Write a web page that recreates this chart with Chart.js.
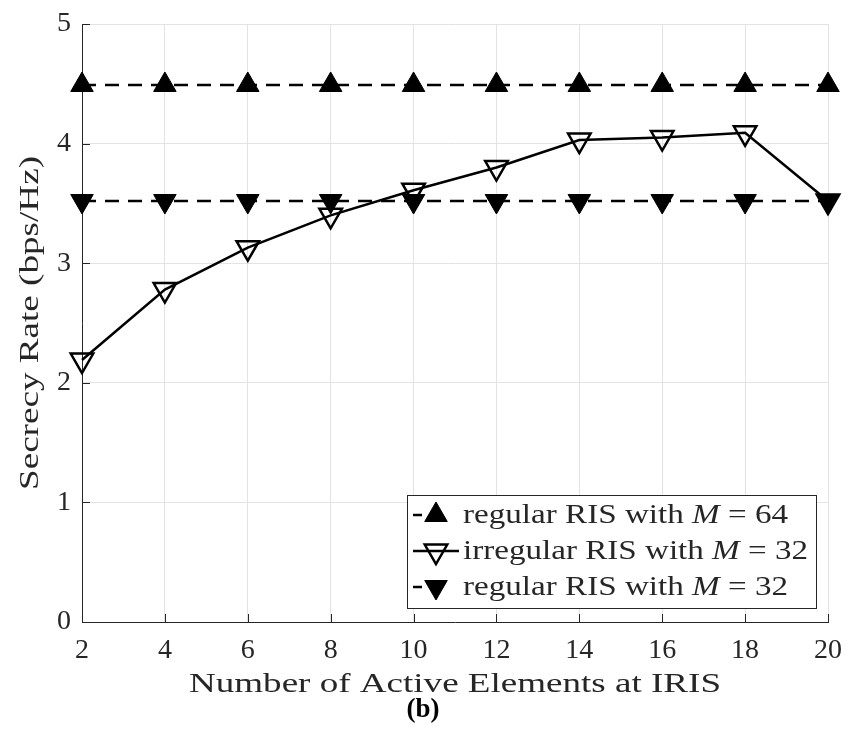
<!DOCTYPE html>
<html>
<head>
<meta charset="utf-8">
<script src="https://cdn.jsdelivr.net/npm/chart.js@4.4.1/dist/chart.umd.min.js"></script>
<style>
  html, body { margin: 0; padding: 0; background: #fff; }
  #wrap { width: 847px; height: 740px; }
</style>
</head>
<body>
<div id="wrap"><canvas id="chart" width="847" height="740"></canvas></div>
<script>
// data
const elements = [2, 4, 6, 8, 10, 12, 14, 16, 18, 20];
const regular64 = [4.49, 4.49, 4.49, 4.49, 4.49, 4.49, 4.49, 4.49, 4.49, 4.49];
const irregular32 = [2.19, 2.78, 3.13, 3.40, 3.61, 3.80, 4.03, 4.05, 4.09, 3.52];
const regular32 = [3.52, 3.52, 3.52, 3.52, 3.52, 3.52, 3.52, 3.52, 3.52, 3.52];
const seriesNames = ["regular RIS with ", "irregular RIS with ", "regular RIS with "];
const seriesM = ["64", "32", "32"];
const yTicks = [0, 1, 2, 3, 4, 5];
const xTitle = "Number of Active Elements at IRIS";
const yTitle = "Secrecy Rate (bps/Hz)";

const SERIF = '"Liberation Serif", "DejaVu Serif", serif';
const TXT = "#262626";
const GRID = "#e3e3e3";
const MARK = 13;

function pts(ys) {
  return elements.map((x, i) => ({ x: x, y: ys[i] }));
}

// the reference font (Computer Modern) is wider than Liberation Serif,
// so stretch the text horizontally to the same length
function stretchText(ctx, text, cx, y, target) {
  const w = ctx.measureText(text).width;
  ctx.save();
  ctx.translate(cx - target / 2, y);
  ctx.scale(target / w, 1);
  ctx.textAlign = "left";
  ctx.fillText(text, 0, 0);
  ctx.restore();
}

function legendText(ctx, i, x, y, target, size) {
  const parts = [
    [seriesNames[i], size + "px " + SERIF],
    ["M", "italic " + size + "px " + SERIF],
    [" = " + seriesM[i], size + "px " + SERIF]
  ];
  let total = 0;
  parts.forEach((p) => { ctx.font = p[1]; total += ctx.measureText(p[0]).width; });
  ctx.save();
  ctx.translate(x, y);
  ctx.scale(target / total, 1);
  ctx.textAlign = "left";
  let tx = 0;
  parts.forEach((p) => {
    ctx.font = p[1];
    ctx.fillText(p[0], tx, 0);
    tx += ctx.measureText(p[0]).width;
  });
  ctx.restore();
}

const matlabLook = {
  id: "matlabLook",
  afterDatasetsDraw(chart) {
    const ctx = chart.ctx;
    const a = chart.chartArea;
    const xs = chart.scales.x, ys = chart.scales.y;
    ctx.save();
    // inward ticks on left and bottom
    ctx.strokeStyle = TXT;
    ctx.lineWidth = 1;
    const tl = 8;
    ctx.beginPath();
    elements.forEach((v) => {
      const px = Math.round(xs.getPixelForValue(v)) + 0.5;
      ctx.moveTo(px, a.bottom); ctx.lineTo(px, a.bottom - tl);
    });
    yTicks.forEach((v) => {
      const py = Math.round(ys.getPixelForValue(v)) + 0.5;
      ctx.moveTo(a.left, py); ctx.lineTo(a.left + tl, py);
    });
    ctx.stroke();

    // axis titles
    ctx.fillStyle = TXT;
    ctx.textBaseline = "alphabetic";
    ctx.font = "28px " + SERIF;
    stretchText(ctx, xTitle, (a.left + a.right) / 2, 692, 532);
    ctx.save();
    ctx.translate(38, (a.top + a.bottom) / 2);
    ctx.rotate(-Math.PI / 2);
    stretchText(ctx, yTitle, 0, 0, 334);
    ctx.restore();

    // legend
    const bx = 407, by = 495, bw = 409, bh = 113;
    ctx.fillStyle = "#fff";
    ctx.fillRect(bx, by, bw, bh);
    ctx.strokeStyle = TXT;
    ctx.strokeRect(bx + 0.5, by + 0.5, bw, bh);
    const rowY = [515, 551, 587];
    const rowW = [325, 345, 325];
    chart.data.datasets.forEach((ds, i) => {
      const y = rowY[i];
      ctx.strokeStyle = "#000";
      ctx.lineWidth = 2.5;
      ctx.setLineDash([]);
      ctx.beginPath();
      if (ds.borderDash && ds.borderDash.length) {
        ctx.moveTo(bx + 6, y); ctx.lineTo(bx + 15, y);
      } else {
        ctx.moveTo(bx + 6, y); ctx.lineTo(bx + 52, y);
      }
      ctx.stroke();
      ctx.fillStyle = ds.pointBackgroundColor;
      ctx.lineWidth = ds.pointBorderWidth;
      ctx.beginPath();
      const r = MARK, rot = ds.pointRotation * Math.PI / 180;
      for (let k = 0; k < 3; k++) {
        const ang = rot + k * 2 * Math.PI / 3;
        const px = bx + 29 + Math.sin(ang) * r, py = y - Math.cos(ang) * r;
        if (k === 0) ctx.moveTo(px, py); else ctx.lineTo(px, py);
      }
      ctx.closePath();
      ctx.fill();
      ctx.stroke();

      ctx.fillStyle = TXT;
      ctx.textBaseline = "middle";
      legendText(ctx, i, bx + 56, y + 1, rowW[i], 28);
    });

    // caption
    ctx.fillStyle = "#000";
    ctx.font = "bold 27px " + SERIF;
    ctx.textAlign = "center";
    ctx.textBaseline = "middle";
    ctx.fillText("(b)", 423, 710);
    ctx.restore();
  }
};

new Chart(document.getElementById("chart").getContext("2d"), {
  type: "line",
  data: {
    datasets: [
      {
        label: "regular RIS with M = 64",
        data: pts(regular64),
        borderColor: "#000",
        borderWidth: 2.5,
        borderDash: [14, 9],
        pointStyle: "triangle",
        pointRotation: 0,
        pointRadius: MARK,
        pointBorderWidth: 1,
        pointBackgroundColor: "#000",
        pointBorderColor: "#000"
      },
      {
        label: "irregular RIS with M = 32",
        data: pts(irregular32),
        borderColor: "#000",
        borderWidth: 2.5,
        pointStyle: "triangle",
        pointRotation: 180,
        pointRadius: MARK,
        pointBorderWidth: 2.5,
        pointBackgroundColor: "rgba(255,255,255,0)",
        pointBorderColor: "#000"
      },
      {
        label: "regular RIS with M = 32",
        data: pts(regular32),
        borderColor: "#000",
        borderWidth: 2.5,
        borderDash: [14, 9],
        pointStyle: "triangle",
        pointRotation: 180,
        pointRadius: MARK,
        pointBorderWidth: 1,
        pointBackgroundColor: "#000",
        pointBorderColor: "#000"
      }
    ]
  },
  options: {
    responsive: false,
    animation: false,
    clip: false,
    layout: { padding: { top: 24, right: 19, left: 0, bottom: 0 } },
    plugins: {
      legend: { display: false },
      tooltip: { enabled: false }
    },
    scales: {
      x: {
        type: "linear",
        min: 2,
        max: 20,
        afterFit(scale) {
          scale.height = 118;
          scale.paddingLeft = 0;
          scale.paddingRight = 0;
        },
        afterBuildTicks(scale) { scale.ticks = elements.map((v) => ({ value: v })); },
        grid: { color: GRID, drawTicks: false },
        border: { color: TXT },
        ticks: { color: TXT, font: { family: SERIF, size: 28 }, padding: 12, maxRotation: 0 },
        title: { display: false, text: xTitle }
      },
      y: {
        min: 0,
        max: 5,
        afterFit(scale) {
          scale.width = 82;
          scale.paddingTop = 0;
          scale.paddingBottom = 0;
        },
        afterBuildTicks(scale) { scale.ticks = yTicks.map((v) => ({ value: v })); },
        grid: { color: GRID, drawTicks: false },
        border: { color: TXT },
        ticks: { color: TXT, font: { family: SERIF, size: 28 }, padding: 11 },
        title: { display: false, text: yTitle }
      }
    }
  },
  plugins: [matlabLook]
});
</script>
</body>
</html>
